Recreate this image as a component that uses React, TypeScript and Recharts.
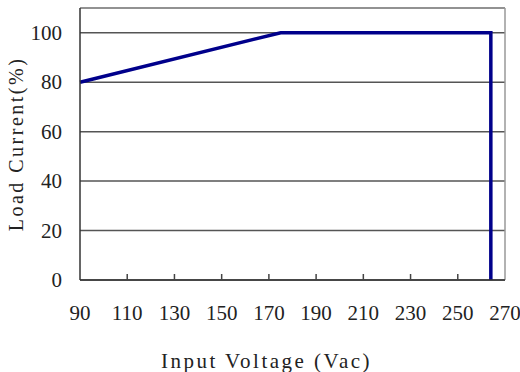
import { CartesianGrid, Line, LineChart, ReferenceLine, XAxis, YAxis, Label } from "recharts";

// Derating curve: load current vs. input voltage
const VOLTAGE = [90, 175, 264, 264];
const LOAD = [80, 100, 100, 0];
const X_TICKS = [90, 110, 130, 150, 170, 190, 210, 230, 250, 270];
const Y_TICKS = [0, 20, 40, 60, 80, 100];

const rows = VOLTAGE.map((v, i) => ({ v, load: LOAD[i] }));

const SERIF = "Liberation Serif, DejaVu Serif, serif";

function XTick(props: any) {
  const { x, y, payload } = props;
  const v = payload.value;
  const inner = v !== X_TICKS[0] && v !== X_TICKS[X_TICKS.length - 1];
  return (
    <g>
      {inner && <line x1={x} x2={x} y1={y} y2={y - 6} stroke="#444" strokeWidth={1.5} />}
      <text x={x} y={y + 40} textAnchor="middle" style={{ fontFamily: SERIF, fontSize: 21, fill: "#222" }}>
        {v}
      </text>
    </g>
  );
}

function YTick(props: any) {
  const { x, y, payload } = props;
  return (
    <text x={x - 18} y={y + 7} textAnchor="end" style={{ fontFamily: SERIF, fontSize: 21, fill: "#222" }}>
      {payload.value}
    </text>
  );
}

export default function App() {
  return (
    <div style={{ position: "absolute", left: 0, top: 0, background: "#fff" }}>
      <LineChart width={520} height={372} data={rows} margin={{ top: 8, right: 15, bottom: 42, left: 0 }}>
        <CartesianGrid vertical={false} stroke="#555" strokeWidth={1.5} />
        <XAxis
          dataKey="v"
          type="number"
          domain={[90, 270]}
          ticks={X_TICKS}
          interval={0}
          height={50}
          tickSize={0}
          tickMargin={0}
          tick={<XTick />}
          stroke="#333"
          strokeWidth={1.5}
        >
          <Label
            value="Input Voltage (Vac)"
            position="insideBottom"
            offset={-38}
            dx={-26}
            style={{ fontFamily: SERIF, fontSize: 21, letterSpacing: 2.5, fill: "#222" }}
          />
        </XAxis>
        <YAxis
          type="number"
          domain={[0, 110]}
          ticks={Y_TICKS}
          interval={0}
          width={80}
          tickSize={0}
          tickMargin={0}
          tick={<YTick />}
          stroke="#333"
          strokeWidth={1.5}
        >
          <Label
            value="Load Current(%)"
            angle={-90}
            position="insideLeft"
            offset={16}
            style={{ textAnchor: "middle", fontFamily: SERIF, fontSize: 20, letterSpacing: 2.5, fill: "#222" }}
          />
        </YAxis>
        <ReferenceLine y={110} stroke="#999" strokeWidth={1.5} />
        <ReferenceLine x={270} stroke="#999" strokeWidth={1.5} />
        <Line
          type="linear"
          dataKey="load"
          stroke="#00008b"
          strokeWidth={3.5}
          strokeLinejoin="miter"
          dot={false}
          activeDot={false}
          isAnimationActive={false}
        />
      </LineChart>
    </div>
  );
}
